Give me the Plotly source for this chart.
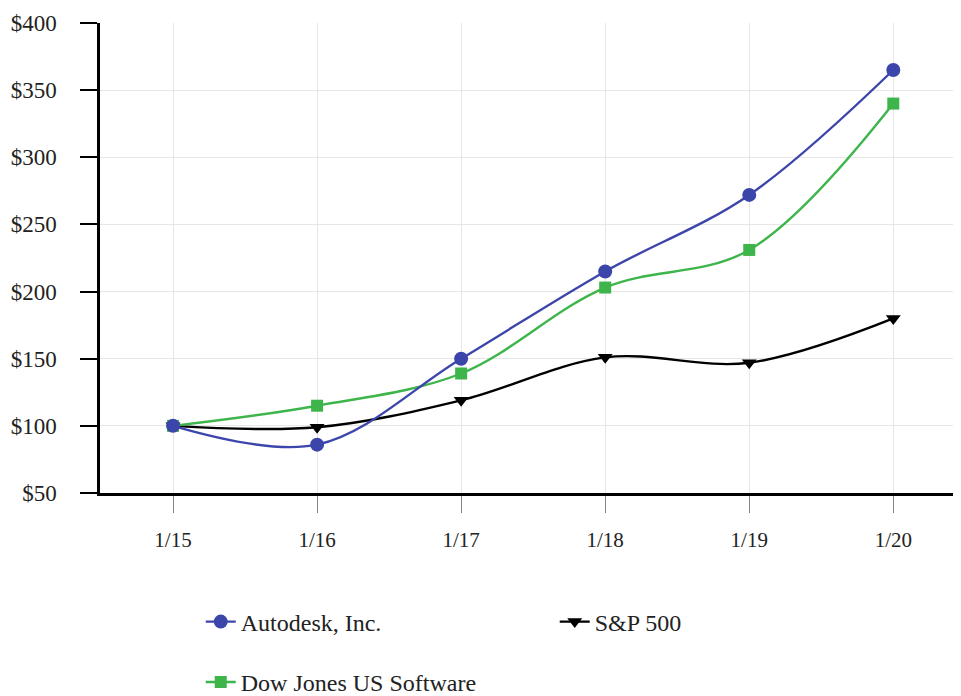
import plotly.graph_objects as go

categories = ["1/15", "1/16", "1/17", "1/18", "1/19", "1/20"]
autodesk = [100, 86, 150, 215, 272, 365]
dowjones = [100, 115, 139, 203, 231, 340]
sp500 = [100, 99, 119, 151, 147, 180]
y_ticks = [50, 100, 150, 200, 250, 300, 350, 400]
y_labels = ["$" + str(v) for v in y_ticks]

BLUE = "#3C46AA"
GREEN = "#3DB54A"
BLACK = "#000000"
FONT = "Liberation Serif"
TXT = "#222222"

x = list(range(len(categories)))

fig = go.Figure()
fig.add_trace(go.Scatter(
    x=x, y=sp500, name="S&P 500", mode="lines+markers",
    line=dict(color=BLACK, width=2.4, shape="spline", smoothing=1),
    marker=dict(symbol="triangle-down", size=13, color=BLACK),
    legend="legend", legendrank=2))
fig.add_trace(go.Scatter(
    x=x, y=dowjones, name="Dow Jones US Software", mode="lines+markers",
    line=dict(color=GREEN, width=2.4, shape="spline", smoothing=1),
    marker=dict(symbol="square", size=12, color=GREEN),
    legend="legend2", legendrank=3))
fig.add_trace(go.Scatter(
    x=x, y=autodesk, name="Autodesk, Inc.", mode="lines+markers",
    line=dict(color=BLUE, width=2.4, shape="spline", smoothing=1),
    marker=dict(symbol="circle", size=14, color=BLUE),
    legend="legend", legendrank=1))

# The page body has an 8px default margin, so the figure is sized to fit inside it.
fig.update_layout(
    width=953, height=688,
    margin=dict(l=92, r=0, t=15, b=203, autoexpand=False),
    paper_bgcolor="white", plot_bgcolor="white",
    font=dict(family=FONT, size=22, color=TXT),
    xaxis=dict(
        range=[-0.507, 5.47], automargin=False,
        tickmode="array", tickvals=x, ticktext=categories,
        showline=True, linecolor=BLACK, linewidth=2.5,
        showgrid=True, gridcolor="#E6E6E6", gridwidth=1,
        ticks="outside", ticklen=17, tickcolor="#888888", tickwidth=1,
        ticklabelstandoff=9,
        tickfont=dict(family=FONT, size=21, color=TXT),
        zeroline=False, fixedrange=True),
    yaxis=dict(
        range=[50, 400], automargin=False,
        tickmode="array", tickvals=y_ticks, ticktext=y_labels,
        showline=True, linecolor=BLACK, linewidth=2.5,
        showgrid=True, gridcolor="#E6E6E6", gridwidth=1,
        ticks="outside", ticklen=17, tickcolor=BLACK, tickwidth=1.5,
        ticklabelstandoff=19,
        tickfont=dict(family=FONT, size=23, color=TXT),
        zeroline=False, fixedrange=True),
    legend=dict(
        orientation="h", x=0.117, xanchor="left", y=-0.2745, yanchor="middle",
        font=dict(family=FONT, size=24, color=TXT),
        entrywidth=309, bgcolor="rgba(0,0,0,0)", traceorder="normal"),
    legend2=dict(
        orientation="h", x=0.117, xanchor="left", y=-0.403, yanchor="middle",
        font=dict(family=FONT, size=24, color=TXT),
        bgcolor="rgba(0,0,0,0)"),
    showlegend=True,
)

fig.write_html("out.html")
